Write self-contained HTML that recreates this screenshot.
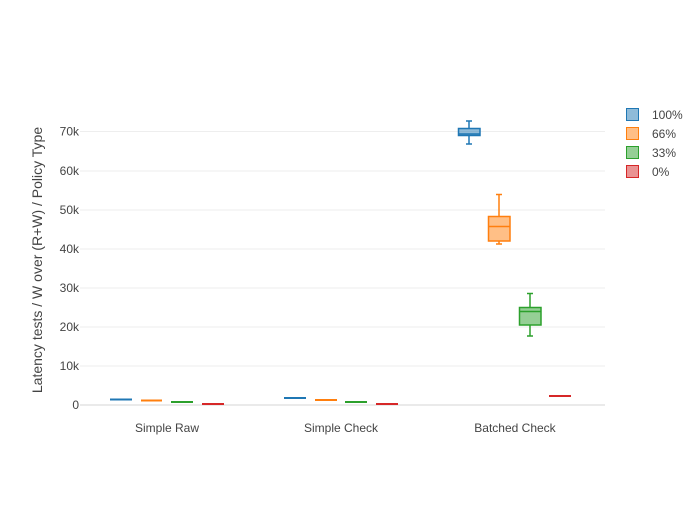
<!DOCTYPE html>
<html><head><style>body{margin:0;background:#fff}svg{font-family:"Liberation Sans",sans-serif}</style></head><body>
<svg width="700" height="500" xmlns="http://www.w3.org/2000/svg">
<g stroke="#eee" stroke-width="1">
<line x1="80" x2="605" y1="131.5" y2="131.5"/><line x1="80" x2="605" y1="171" y2="171"/><line x1="80" x2="605" y1="210" y2="210"/><line x1="80" x2="605" y1="249" y2="249"/><line x1="80" x2="605" y1="288" y2="288"/><line x1="80" x2="605" y1="327" y2="327"/><line x1="80" x2="605" y1="366" y2="366"/>
</g>
<line x1="80" x2="605" y1="405" y2="405" stroke="#e4e4e4" stroke-width="1.5"/>
<g font-size="12" fill="#444" text-anchor="end">
<text x="79" y="409">0</text><text x="79" y="370">10k</text><text x="79" y="331">20k</text><text x="79" y="292">30k</text><text x="79" y="253">40k</text><text x="79" y="214">50k</text><text x="79" y="175">60k</text><text x="79" y="135.5">70k</text>
</g>
<g font-size="12" fill="#444" text-anchor="middle">
<text x="167" y="432">Simple Raw</text><text x="341" y="432">Simple Check</text><text x="515" y="432">Batched Check</text>
</g>
<text transform="translate(42,260) rotate(-90)" font-size="14" fill="#444" text-anchor="middle">Latency tests / W over (R+W) / Policy Type</text>
<g stroke-width="2">
<line x1="110" x2="132" y1="399.5" y2="399.5" stroke="#1f77b4"/>
<line x1="141" x2="162" y1="400.5" y2="400.5" stroke="#ff7f0e"/>
<line x1="171" x2="193" y1="402" y2="402" stroke="#2ca02c"/>
<line x1="202" x2="224" y1="404" y2="404" stroke="#d62728"/>
<line x1="284" x2="306" y1="398" y2="398" stroke="#1f77b4"/>
<line x1="315" x2="337" y1="400" y2="400" stroke="#ff7f0e"/>
<line x1="345" x2="367" y1="402" y2="402" stroke="#2ca02c"/>
<line x1="376" x2="398" y1="404" y2="404" stroke="#d62728"/>
<line x1="549" x2="571" y1="396" y2="396" stroke="#d62728"/>
</g>
<g stroke="#1f77b4" stroke-width="1.5">
<line x1="469" x2="469" y1="121" y2="128.5"/><line x1="469" x2="469" y1="135.5" y2="144"/><line x1="466" x2="472" y1="121" y2="121"/><line x1="466" x2="472" y1="144" y2="144"/>
<rect x="458.5" y="128.5" width="21.5" height="7" fill="rgba(31,119,180,0.5)"/><line x1="458.5" x2="480" y1="134" y2="134"/>
</g>
<g stroke="#ff7f0e" stroke-width="1.5">
<line x1="499" x2="499" y1="194.5" y2="216.5"/><line x1="499" x2="499" y1="241" y2="244"/><line x1="496" x2="502" y1="194.5" y2="194.5"/><line x1="496" x2="502" y1="244" y2="244"/>
<rect x="488.5" y="216.5" width="21.5" height="24.5" fill="rgba(255,127,14,0.5)"/><line x1="488.5" x2="510" y1="226.5" y2="226.5"/>
</g>
<g stroke="#2ca02c" stroke-width="1.5">
<line x1="530" x2="530" y1="293.5" y2="307.5"/><line x1="530" x2="530" y1="325" y2="336"/><line x1="527" x2="533" y1="293.5" y2="293.5"/><line x1="527" x2="533" y1="336" y2="336"/>
<rect x="519.5" y="307.5" width="21.5" height="17.5" fill="rgba(44,160,44,0.5)"/><line x1="519.5" x2="541" y1="311.5" y2="311.5"/>
</g>
<g stroke-width="1">
<rect x="626.5" y="108.5" width="12" height="12" fill="rgba(31,119,180,0.5)" stroke="#1f77b4"/>
<rect x="626.5" y="127.5" width="12" height="12" fill="rgba(255,127,14,0.5)" stroke="#ff7f0e"/>
<rect x="626.5" y="146.5" width="12" height="12" fill="rgba(44,160,44,0.5)" stroke="#2ca02c"/>
<rect x="626.5" y="165.5" width="12" height="12" fill="rgba(214,39,40,0.5)" stroke="#d62728"/>
</g>
<g font-size="12" fill="#444">
<text x="652" y="119">100%</text><text x="652" y="138">66%</text><text x="652" y="157">33%</text><text x="652" y="176">0%</text>
</g>
</svg>
</body></html>
